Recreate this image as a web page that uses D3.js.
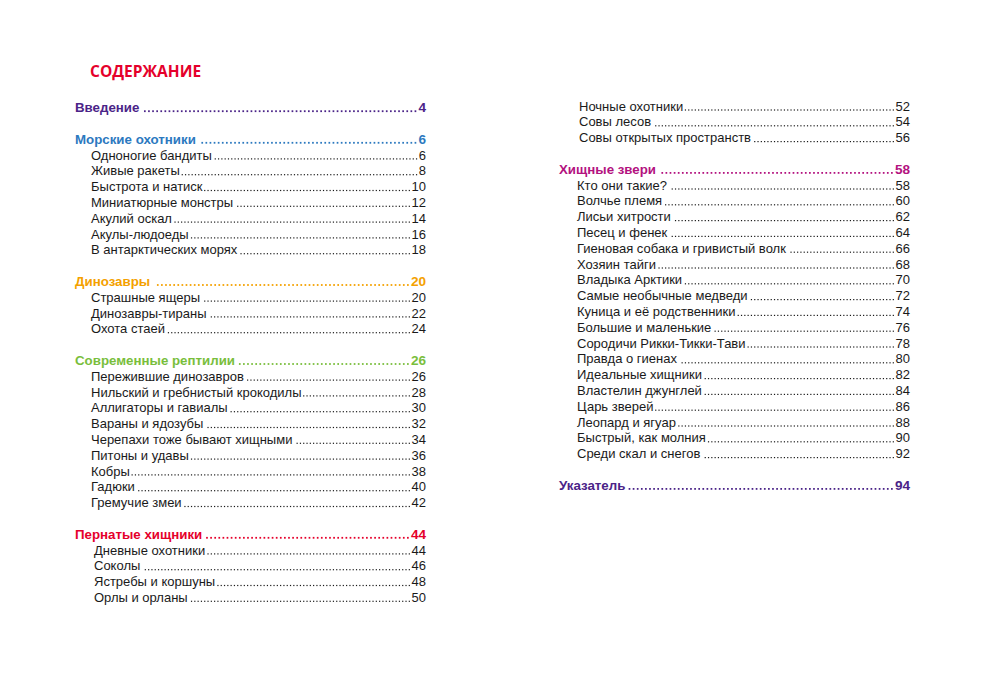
<!DOCTYPE html>
<html><head><meta charset="utf-8">
<script src="https://cdn.jsdelivr.net/npm/d3@7"></script>
<style>html,body{margin:0;padding:0;background:#fff;}</style>
</head><body>
<svg id="c" width="1000" height="674"></svg>
<script>
const pageTitle = "СОДЕРЖАНИЕ";
const sectionTitles = ["Введение","Морские охотники","Динозавры","Современные рептилии","Пернатые хищники","Хищные звери","Указатель"];
const sectionPages = [4,6,20,26,44,58,94];
const sectionItems = [
  [],
  ["Одноногие бандиты","Живые ракеты","Быстрота и натиск","Миниатюрные монстры","Акулий оскал","Акулы-людоеды","В антарктических морях"],
  ["Страшные ящеры","Динозавры-тираны","Охота стаей"],
  ["Пережившие динозавров","Нильский и гребнистый крокодилы","Аллигаторы и гавиалы","Вараны и ядозубы","Черепахи тоже бывают хищными","Питоны и удавы","Кобры","Гадюки","Гремучие змеи"],
  ["Дневные охотники","Соколы","Ястребы и коршуны","Орлы и орланы","Ночные охотники","Совы лесов","Совы открытых пространств"],
  ["Кто они такие?","Волчье племя","Лисьи хитрости","Песец и фенек","Гиеновая собака и гривистый волк","Хозяин тайги","Владыка Арктики","Самые необычные медведи","Куница и её родственники","Большие и маленькие","Сородичи Рикки-Тикки-Тави","Правда о гиенах","Идеальные хищники","Властелин джунглей","Царь зверей","Леопард и ягуар","Быстрый, как молния","Среди скал и снегов"],
  []
];
const itemPages = [
  [],
  [6,8,10,12,14,16,18],
  [20,22,24],
  [26,28,30,32,34,36,38,40,42],
  [44,46,48,50,52,54,56],
  [58,60,62,64,66,68,70,72,74,76,78,80,82,84,86,88,90,92],
  []
];
const sectionColors = ["#4b2488","#2c79bf","#f4a100","#79be3c","#e5002b","#b3127f","#4b2488"];

const svg = d3.select("#c");
const FONT = "'Liberation Sans', Arial, sans-serif";

const rows = [];
sectionTitles.forEach((t,i)=>{
  if (i>0) rows.push({blank:true});
  rows.push({heading:true, text:t, page:sectionPages[i], color:sectionColors[i], sec:i});
  sectionItems[i].forEach((it,j)=>rows.push({heading:false, text:it, page:itemPages[i][j], color:"#1a1a1a", sec:i}));
});
const splitAt = 32;
const cols = [
  {rows: rows.slice(0, splitAt), y0: 107.5, hx: 75, ix: 91, right: 426},
  {rows: rows.slice(splitAt), y0: 106, hx: 559, ix: 577, right: 910}
];
const step = 15.8;

svg.append("text").attr("x",90).attr("y",77)
  .attr("font-family","'Open Sans', 'Liberation Sans', sans-serif").attr("font-weight",700)
  .attr("font-size",15.5).attr("fill","#e5002b").text(pageTitle);

cols.forEach((col, ci)=>{
  const y = d3.scaleLinear().domain([0,1]).range([col.y0, col.y0+step]);
  col.rows.forEach((r, k)=>{
    if (r.blank) return;
    const base = y(k) + 4.6;
    let x = r.heading ? col.hx : col.ix;
    if (!r.heading && ci===0 && r.sec===4) x = 94;
    if (!r.heading && ci===1 && r.sec===4) x = 579;
    const g = svg.append("g");
    const t = g.append("text").attr("x",x).attr("y",base)
      .attr("font-family",FONT).attr("font-size",r.heading?13.3:13)
      .attr("font-weight",r.heading?700:400).attr("fill",r.color).text(r.text);
    const n = g.append("text").attr("x",col.right).attr("y",base).attr("text-anchor","end")
      .attr("font-family",FONT).attr("font-size",r.heading?13.6:13)
      .attr("font-weight",r.heading?700:400).attr("fill",r.color).text(r.page);
    const tw = t.node().getComputedTextLength();
    const nw = n.node().getComputedTextLength();
    const gap = r.heading ? 4.1 : 3.3;
    const x1 = x + tw + (r.heading?4:2);
    const x2 = col.right - nw - (r.heading?3:2.2);
    const nd = Math.floor((x2 - x1)/gap);
    const xs = d3.range(nd+1).map(i => x2 - i*gap);
    g.selectAll("rect").data(xs).join("rect")
      .attr("x", d=>d - (r.heading?0.85:0.6)).attr("y", base - (r.heading?1.8:1.2))
      .attr("width", r.heading?1.7:1.2).attr("height", r.heading?1.8:1.2)
      .attr("fill", r.color);
  });
});
</script>
</body></html>
